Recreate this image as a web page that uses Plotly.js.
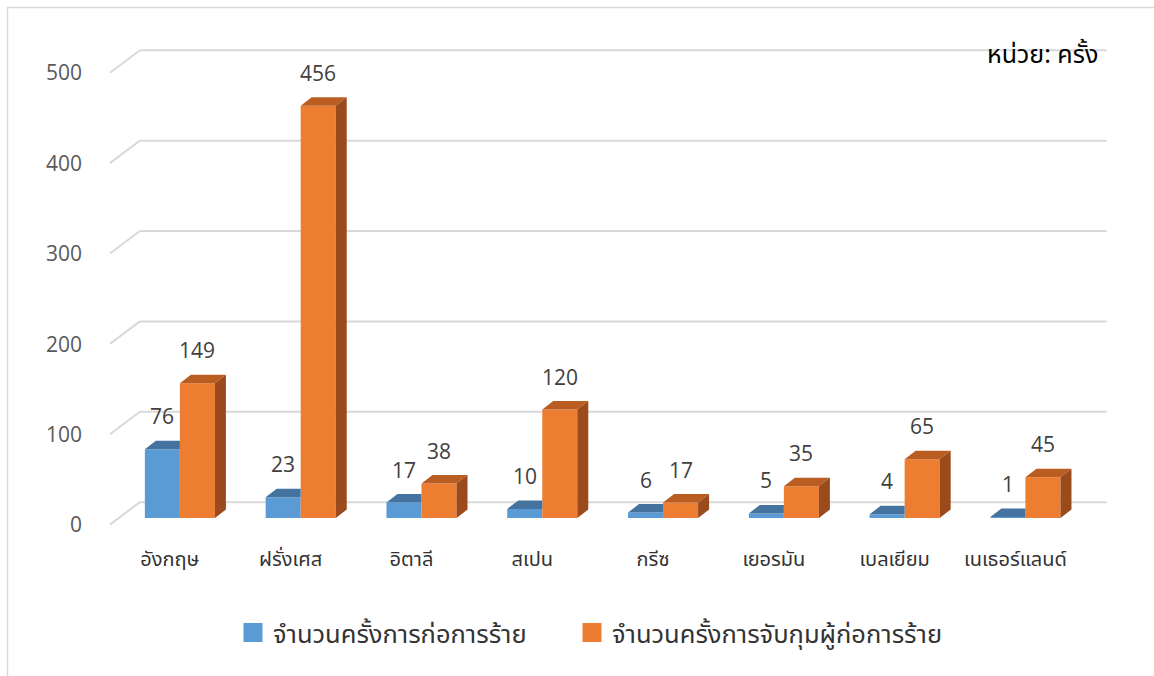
<!DOCTYPE html>
<html>
<head>
<meta charset="utf-8">
<script src="https://cdn.plot.ly/plotly-3.0.1.min.js"></script>
<style>html,body{margin:0;padding:0;background:#fff;}#chart{width:1154px;height:676px;}</style>
</head>
<body>
<div id="chart"></div>
<script>
// ---- data ----
const categories = ['อังกฤษ','ฝรั่งเศส','อิตาลี','สเปน','กรีซ','เยอรมัน','เบลเยียม','เนเธอร์แลนด์'];
const attacks = [76, 23, 17, 10, 6, 5, 4, 1];
const arrests = [149, 456, 38, 120, 17, 35, 65, 45];
const seriesNames = ['จำนวนครั้งการก่อการร้าย', 'จำนวนครั้งการจับกุมผู้ก่อการร้าย'];
const yTicks = [0, 100, 200, 300, 400, 500];
const yTickText = ['0', '100', '200', '300', '400', '500'];
const unitLabel = 'หน่วย: ครั้ง';

// ---- geometry / style ----
const W = 1154, H = 676;
const M = {l: 105, r: 44, t: 39, b: 149};
const xRange = [-0.62, 7.7], yRange = [-10, 530];
const plotW = W - M.l - M.r, plotH = H - M.t - M.b;
const pxPerX = plotW / (xRange[1] - xRange[0]);
const pxPerY = plotH / (yRange[1] - yRange[0]);
const barW = 0.29;
const depthX = 11 / pxPerX, depthY = 8.5 / pxPerY;      // bar 3D depth
const wallX0 = -0.579, wallX1 = -0.331, wallXEnd = 7.674; // floor/back wall
const wallBackDY = 17.5, wallFrontDY = -7.4;
const thaiFont = 'Noto Sans Thai, Noto Sans, sans-serif';
const numFont = 'Open Sans, Noto Sans, sans-serif';
const c = {blue: '#5B9BD5', blueTop: '#4573A0', orange: '#ED7D31', orangeTop: '#BA5D20', orangeSide: '#9A4A1B', grid: '#d9d9d9'};

const px2paperX = p => (p - M.l) / plotW;
const px2paperY = p => (H - M.b - p) / plotH;

const xs = categories.map((_, i) => i);

function faces(vals, kind) {
  const X = [], Y = [];
  vals.forEach((v, i) => {
    let pts;
    if (kind === 'blueTop') {
      const x0 = i - barW, x1 = i;
      pts = [[x0, v], [x1, v], [x1, v + depthY], [x0 + depthX, v + depthY]];
    } else if (kind === 'orangeTop') {
      const x0 = i, x1 = i + barW;
      pts = [[x0, v], [x1, v], [x1 + depthX, v + depthY], [x0 + depthX, v + depthY]];
    } else {
      const x1 = i + barW;
      pts = [[x1, 0], [x1, v], [x1 + depthX, v + depthY], [x1 + depthX, depthY]];
    }
    pts.push(pts[0]);
    pts.forEach(p => { X.push(p[0]); Y.push(p[1]); });
    X.push(null); Y.push(null);
  });
  return {X, Y};
}
function faceTrace(vals, kind, color) {
  const f = faces(vals, kind);
  return {type: 'scatter', mode: 'lines', x: f.X, y: f.Y, fill: 'toself', fillcolor: color,
          line: {width: 0, color: color}, hoverinfo: 'skip', showlegend: false};
}
function legendTrace(name, color, legendId) {
  return {type: 'scatter', mode: 'markers', name: name, x: [null], y: [null], hoverinfo: 'skip', legend: legendId,
          marker: {symbol: 'square', size: 16, color: color, line: {width: 3, color: color}}};
}

const traces = [
  {type: 'bar', name: seriesNames[0], x: xs, y: attacks, width: barW, offset: -barW, showlegend: false,
   marker: {color: c.blue, line: {width: 0}}, hoverinfo: 'skip'},
  {type: 'bar', name: seriesNames[1], x: xs, y: arrests, width: barW, offset: 0, showlegend: false,
   marker: {color: c.orange, line: {width: 0}}, hoverinfo: 'skip'},
  faceTrace(attacks, 'blueTop', c.blueTop),
  faceTrace(arrests, 'orangeTop', c.orangeTop),
  faceTrace(arrests, 'orangeSide', c.orangeSide),
  legendTrace(seriesNames[0], c.blue, 'legend'),
  legendTrace(seriesNames[1], c.orange, 'legend2')
];

const shapes = [];
yTicks.forEach(v => {
  shapes.push({type: 'line', xref: 'x', yref: 'y', layer: 'below', x0: wallX0, y0: v + wallFrontDY, x1: wallX1, y1: v + wallBackDY,
               line: {color: c.grid, width: 2}});
  shapes.push({type: 'line', xref: 'x', yref: 'y', layer: 'below', x0: wallX1, y0: v + wallBackDY, x1: wallXEnd, y1: v + wallBackDY,
               line: {color: c.grid, width: 2}});
});
// chart area border (left and top)
shapes.push({type: 'line', xref: 'paper', yref: 'paper', x0: px2paperX(7.5), x1: px2paperX(7.5), y0: px2paperY(7), y1: px2paperY(680),
             line: {color: '#d9d9d9', width: 1.5}});
shapes.push({type: 'line', xref: 'paper', yref: 'paper', x0: px2paperX(7), x1: px2paperX(1160), y0: px2paperY(7.5), y1: px2paperY(7.5),
             line: {color: '#d9d9d9', width: 1.5}});

const annotations = [];
attacks.forEach((v, i) => annotations.push({x: i - barW / 2, y: v, xref: 'x', yref: 'y', text: String(v), showarrow: false,
  yshift: 33, yanchor: 'middle', font: {family: numFont, size: 21, color: '#404040'}}));
arrests.forEach((v, i) => annotations.push({x: i + barW / 2, y: v, xref: 'x', yref: 'y', text: String(v), showarrow: false,
  yshift: 33, yanchor: 'middle', font: {family: numFont, size: 21, color: '#404040'}}));
annotations.push({xref: 'paper', yref: 'paper', x: px2paperX(1100), y: px2paperY(55), xanchor: 'right', yanchor: 'middle',
  text: unitLabel, showarrow: false, font: {family: thaiFont, size: 25, color: '#000000'}});

const legendBase = {orientation: 'h', xanchor: 'left', y: px2paperY(633), yanchor: 'middle',
  font: {family: thaiFont, size: 25.5, color: '#333333'}, itemclick: false, itemdoubleclick: false, bgcolor: 'rgba(0,0,0,0)'};

const layout = {
  width: W, height: H, margin: M, paper_bgcolor: '#ffffff', plot_bgcolor: 'rgba(0,0,0,0)',
  barmode: 'overlay', showlegend: true,
  xaxis: {range: xRange, tickmode: 'array', tickvals: xs, ticktext: categories, showgrid: false, zeroline: false,
          showline: false, ticks: '', ticklabelshift: -10, ticklabelstandoff: 18, automargin: false, fixedrange: true,
          tickfont: {family: thaiFont, size: 20, color: '#333333'}},
  yaxis: {range: yRange, tickmode: 'array', tickvals: yTicks, ticktext: yTickText, showgrid: false, zeroline: false,
          showline: false, ticks: '', ticklabelshift: 7, ticklabelstandoff: 22, automargin: false, fixedrange: true,
          tickfont: {family: numFont, size: 21, color: '#595959'}},
  legend: Object.assign({}, legendBase, {x: px2paperX(233)}),
  legend2: Object.assign({}, legendBase, {x: px2paperX(572)}),
  shapes: shapes, annotations: annotations
};

Plotly.newPlot('chart', traces, layout, {displayModeBar: false, staticPlot: true});
</script>
</body>
</html>
